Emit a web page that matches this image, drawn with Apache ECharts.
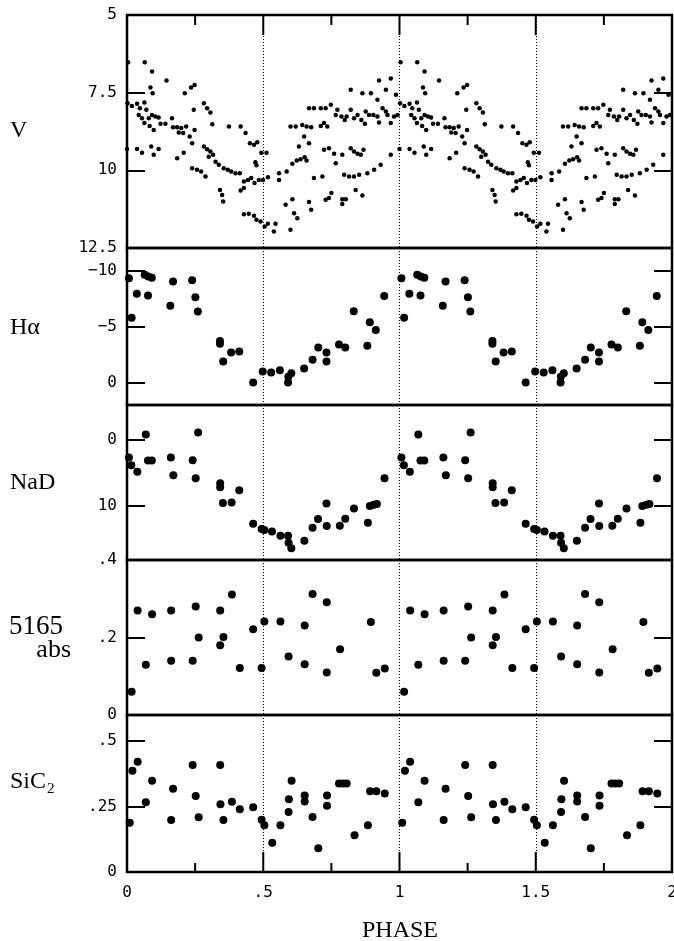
<!DOCTYPE html>
<html><head><meta charset="utf-8">
<script src="https://cdn.jsdelivr.net/npm/echarts@6/dist/echarts.min.js"></script>
<style>html,body{margin:0;padding:0;background:#fff}#c{width:674px;height:941px}</style>
</head><body><div id="c"></div>
<script>
// ---- One phase cycle of each quantity (plotted at phase and phase+1, as in the original) ----
// V magnitude light curve
const vPhase = [
 .004,.065,.092,.145,.086,.094,.002,.018,.037,.047,.064,.071,.043,.055,.064,.080,.092,.104,.116,.083,.098,.123,.141,.165,.000,.037,.055,.089,.098,.116,
 .169,.184,.199,.190,.206,.217,.245,.212,.235,.248,.282,.294,.306,.313,.230,.239,.248,.208,.184,.282,.294,.306,.300,.316,.325,.337,.239,.257,.272,.288,.355,.370,.382,
 .374,.417,.435,.451,.466,.478,.493,.512,.471,.475,.398,.414,.429,.444,.456,.468,.484,.499,.517,.429,.417,.341,.349,.353,.429,.447,.466,.475,.490,.505,.517,.545,.539,.600,
 .582,.607,.613,.625,.668,.676,.558,.558,.586,.607,.623,.637,.652,.659,.631,.668,.686,.717,.600,.619,.643,.659,.676,.711,.723,.735,.650,.668,.686,.711,.729,.748,.723,.741,.760,
 .772,.766,.787,.799,.806,.821,.833,.846,.860,.873,.876,.888,.904,.919,.925,.938,.950,.956,.968,.980,.993,.821,.864,.895,.919,.925,.968,.950,.987,.790,.821,.833,.846,.858,.868,.766,.797,.815,.833,.852,.882,.907,.931,.968,.729,.741,.750,.790,.790,.803,.839,.864
];
const vMag = [
 6.52,6.52,6.82,7.11,7.33,7.52,7.84,7.93,7.86,8.00,7.82,8.05,8.22,8.32,8.48,8.32,8.22,8.27,8.30,8.57,8.70,8.50,8.50,8.32,9.31,9.31,9.43,9.23,9.50,9.31,
 8.61,8.61,8.64,8.78,8.80,8.59,8.05,7.52,7.33,7.25,7.84,8.00,8.14,8.52,8.91,9.13,8.70,9.43,9.61,9.23,9.32,9.39,9.56,9.50,9.72,9.82,9.93,9.98,10.04,10.20,9.93,9.98,10.04,
 8.59,8.59,8.80,9.13,9.18,9.10,9.43,9.43,9.74,9.84,10.09,10.09,10.36,10.31,10.25,10.41,10.31,10.31,10.22,10.57,10.65,10.63,10.79,11.00,11.41,11.40,11.46,11.59,11.65,11.81,11.72,11.72,11.97,11.91,
 11.11,10.93,11.38,11.54,11.02,11.27,10.09,10.31,10.04,9.79,9.68,9.64,9.58,9.68,9.23,9.13,10.25,10.20,8.59,8.59,8.54,8.59,8.61,8.57,8.48,8.59,8.91,8.00,8.00,8.00,8.00,7.89,9.34,9.29,9.47,
 8.05,8.22,8.27,8.38,8.27,8.05,8.32,8.22,8.38,8.50,8.11,8.22,8.22,8.27,8.46,8.00,8.11,8.22,8.48,8.27,8.22,7.41,7.52,7.52,7.73,7.11,7.04,7.41,7.57,9.50,9.29,9.39,9.47,9.50,9.34,9.77,10.14,10.20,10.20,10.14,10.09,9.98,9.82,9.50,10.95,10.89,10.73,10.93,11.08,10.93,10.63,10.81
];
// H-alpha
const haPhase = [.007,.017,.036,.065,.077,.078,.091,.159,.169,.239,.251,.260,.341,.341,.353,.382,.412,.463,.498,.529,.561,.591,.592,.603,.650,.681,.702,.732,.732,.778,.801,.832,.882,.891,.913,.944];
const haVal = [-9.31,-5.79,-7.91,-9.61,-7.76,-9.46,-9.34,-6.84,-9.01,-9.13,-7.61,-6.33,-3.70,-3.46,-1.88,-2.69,-2.78,0,-0.99,-0.90,-1.10,0,-0.51,-0.84,-1.25,-2.03,-3.13,-1.88,-2.69,-3.40,-3.13,-6.36,-3.28,-5.37,-4.69,-7.73];
// NaD
const naPhase = [.007,.016,.038,.069,.077,.091,.161,.170,.241,.252,.261,.342,.342,.352,.384,.412,.463,.494,.504,.532,.563,.591,.593,.603,.651,.681,.701,.732,.733,.781,.801,.833,.884,.891,.906,.917,.945];
const naVal = [2.7,3.85,4.85,-0.75,3.15,3.15,2.7,5.35,3.1,5.8,-1.05,6.55,7.15,9.55,9.45,7.6,12.65,13.45,13.6,13.8,14.45,14.45,15.5,16.35,15.2,13.25,11.95,9.6,13.0,12.95,11.9,10.35,12.5,10.0,9.8,9.7,5.8];
// 5165 absorption
const abPhase = [.017,.039,.069,.092,.162,.162,.241,.252,.263,.342,.342,.354,.385,.414,.463,.494,.504,.563,.593,.652,.652,.681,.733,.733,.782,.895,.915,.946];
const abVal = [.060,.270,.130,.260,.270,.140,.140,.280,.200,.270,.180,.201,.311,.121,.221,.121,.241,.241,.151,.231,.131,.312,.291,.110,.170,.240,.109,.120];
// SiC2
const sicPhase = [.010,.020,.039,.069,.092,.162,.169,.241,.252,.263,.342,.343,.354,.385,.414,.463,.494,.504,.533,.563,.593,.594,.604,.652,.652,.681,.702,.734,.734,.778,.792,.806,.835,.884,.892,.915,.946];
const sicVal = [.188,.387,.421,.267,.349,.199,.318,.409,.290,.209,.409,.259,.199,.268,.240,.247,.200,.179,.112,.179,.229,.278,.349,.292,.269,.210,.091,.253,.292,.338,.338,.338,.140,.179,.309,.309,.300];

// Tick values / labels
const xTickVals = [0, 0.5, 1, 1.5, 2];
const xTickText = ['0', '.5', '1', '1.5', '2'];
const xMajorTickVals = [0.5, 1, 1.5];
const xMinorTickVals = [0.25, 0.75, 1.25, 1.75];
const vLabelVals = [5, 7.5, 10, 12.5], vLabelText = ['5', '7.5', '10', '12.5'], vTickVals = [7.5, 10];
const haLabelVals = [-10, -5, 0], haLabelText = ['\u221210', '\u22125', '0'], haTickVals = [-10, -5, 0];
const naLabelVals = [0, 10], naLabelText = ['0', '10'], naTickVals = [0, 10];
const abLabelVals = [0, 0.2, 0.4], abLabelText = ['0', '.2', '.4'], abTickVals = [0.2];
const sicLabelVals = [0, 0.25, 0.5], sicLabelText = ['0', '.25', '.5'], sicTickVals = [0.25, 0.5];

function twoCycles(ph, val) {
  const out = [];
  for (let k = 0; k < 2; k++) for (let i = 0; i < ph.length; i++) out.push([ph[i] + k, val[i]]);
  return out;
}
function lookup(vals, texts) {
  return function (v) {
    for (let j = 0; j < vals.length; j++) if (Math.abs(vals[j] - v) < 1e-9) return texts[j];
    return '';
  };
}

const panels = [
  {top: 15, height: 233, min: 5, max: 12.5, inverse: true, ticks: vTickVals, lv: vLabelVals, lt: vLabelText, data: twoCycles(vPhase, vMag), size: 4.5},
  {top: 248, height: 157, min: -12, max: 2, inverse: true, ticks: haTickVals, lv: haLabelVals, lt: haLabelText, data: twoCycles(haPhase, haVal), size: 8},
  {top: 405, height: 155, min: -5.2, max: 18.1, inverse: true, ticks: naTickVals, lv: naLabelVals, lt: naLabelText, data: twoCycles(naPhase, naVal), size: 8},
  {top: 560, height: 155, min: 0, max: 0.4, inverse: false, ticks: abTickVals, lv: abLabelVals, lt: abLabelText, data: twoCycles(abPhase, abVal), size: 8},
  {top: 715, height: 157, min: 0, max: 0.6, inverse: false, ticks: sicTickVals, lv: sicLabelVals, lt: sicLabelText, data: twoCycles(sicPhase, sicVal), size: 8}
];

// Phase tick marks along the top of the first panel and bottom of the last panel,
// positioned through the panel's own axes (api.coord); only their length is a style.
function phaseTicks(xIdx, yIdx, edgeVal, dir, vals, len) {
  return {type: 'custom', xAxisIndex: xIdx, yAxisIndex: yIdx, silent: true, clip: false, z: 5,
    data: vals.map(v => [v, edgeVal]), encode: {x: 0, y: 1},
    renderItem: function (params, api) {
      const pt = api.coord([api.value(0), api.value(1)]);
      return {type: 'line', shape: {x1: pt[0], y1: pt[1], x2: pt[0], y2: pt[1] + dir * len},
              style: {stroke: '#000', lineWidth: 2}};
    }
  };
}

const tickFont = {color: '#000', fontFamily: 'DejaVu Sans Mono', fontSize: 16};
const grid = [], xAxis = [], yAxis = [], series = [];
panels.forEach((p, i) => {
  grid.push({left: 127, right: 2, top: p.top, height: p.height, show: true, borderColor: '#000', borderWidth: 2.5,
             backgroundColor: 'transparent', containLabel: false, outerBoundsMode: 'none'});
  const last = i === panels.length - 1;
  xAxis.push({type: 'value', gridIndex: i, min: 0, max: 2, interval: 0.5, position: i === 0 ? 'top' : 'bottom',
    axisLine: {show: false, onZero: false},
    axisTick: {show: false},
    axisLabel: Object.assign({show: last, margin: 13, customValues: xTickVals, formatter: lookup(xTickVals, xTickText)}, tickFont),
    splitLine: {show: true, lineStyle: {color: '#000', width: 1, type: [1, 2]}}
  });
  const leftY = yAxis.length;
  [false, true].forEach(right => {
    yAxis.push({type: 'value', gridIndex: i, min: p.min, max: p.max, inverse: p.inverse, position: right ? 'right' : 'left',
      axisLine: {show: false, onZero: false},
      splitLine: {show: false},
      axisTick: {show: true, inside: true, length: 18, customValues: p.ticks, lineStyle: {color: '#000', width: 2}},
      axisLabel: Object.assign({show: !right, margin: 10, customValues: p.lv, showMinLabel: true, showMaxLabel: true,
        formatter: lookup(p.lv, p.lt)}, tickFont)
    });
  });
  series.push({type: 'scatter', xAxisIndex: i, yAxisIndex: leftY, data: p.data, symbol: 'circle',
    symbolSize: p.size, itemStyle: {color: '#000', opacity: 1}, clip: false, silent: true});
  if (i === 0) {
    series.push(phaseTicks(i, leftY, p.min, 1, xMajorTickVals, 20));
    series.push(phaseTicks(i, leftY, p.min, 1, xMinorTickVals, 10));
  }
  if (last) {
    series.push(phaseTicks(i, leftY, p.min, -1, xMajorTickVals, 20));
    series.push(phaseTicks(i, leftY, p.min, -1, xMinorTickVals, 9));
  }
});

const titleFont = "24px 'Liberation Serif'";
const graphic = [
  {type: 'text', x: 10, y: 131, style: {text: 'V', font: titleFont, fill: '#000', textAlign: 'left', textVerticalAlign: 'middle'}},
  {type: 'text', x: 10, y: 328, style: {text: 'H\u03b1', font: titleFont, fill: '#000', textAlign: 'left', textVerticalAlign: 'middle'}},
  {type: 'text', x: 10, y: 483, style: {text: 'NaD', font: titleFont, fill: '#000', textAlign: 'left', textVerticalAlign: 'middle'}},
  {type: 'text', x: 9, y: 627, style: {text: '5165', font: "27px 'Liberation Serif'", fill: '#000', textAlign: 'left', textVerticalAlign: 'middle'}},
  {type: 'text', x: 71, y: 650, style: {text: 'abs', font: "26px 'Liberation Serif'", fill: '#000', textAlign: 'right', textVerticalAlign: 'middle'}},
  {type: 'text', x: 10, y: 782, style: {text: 'SiC', font: titleFont, fill: '#000', textAlign: 'left', textVerticalAlign: 'middle'}},
  {type: 'text', x: 47, y: 789, style: {text: '2', font: "15px 'Liberation Serif'", fill: '#000', textAlign: 'left', textVerticalAlign: 'middle'}},
  {type: 'text', x: 400, y: 931, style: {text: 'PHASE', font: titleFont, fill: '#000', textAlign: 'center', textVerticalAlign: 'middle'}}
];

const chart = echarts.init(document.getElementById('c'), null, {renderer: 'canvas'});
chart.setOption({backgroundColor: '#fff', animation: false, grid, xAxis, yAxis, series, graphic});
</script></body></html>
